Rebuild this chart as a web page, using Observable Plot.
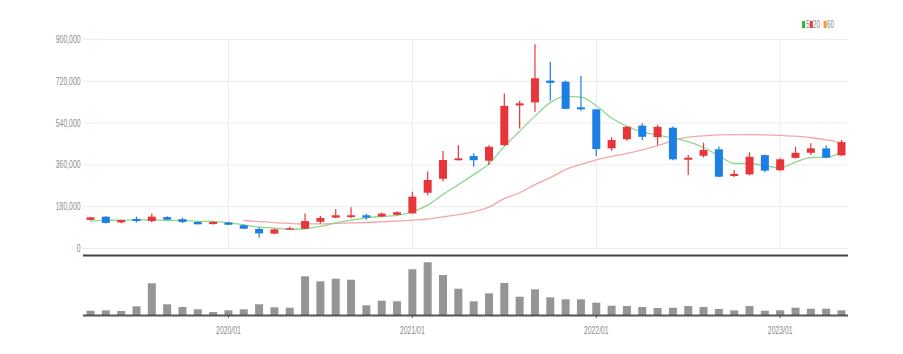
<!DOCTYPE html>
<html>
<head>
<meta charset="utf-8">
<script src="https://cdn.jsdelivr.net/npm/d3@7"></script>
<script src="https://cdn.jsdelivr.net/npm/@observablehq/plot@0.6"></script>
<style>
  body { margin: 0; background: #fff; font-family: "Liberation Sans", Arial, sans-serif; }
  #wrap { position: relative; width: 903px; height: 354px; overflow: hidden; }
  #wrap svg { display: block; }
  #legend { position: absolute; left: 802px; top: 19px; width: 80px; height: 12px; transform: scaleX(0.6); transform-origin: 0 0; font-size: 10.5px; color: #888; }
  #legend span { position: absolute; }
  #legend .sq { top: 2px; width: 5px; height: 7px; }
  #legend .tx { top: 0px; line-height: 11px; }
</style>
</head>
<body>
<div id="wrap">
  <div id="main"></div>
  <div id="vol"></div>
  <div id="legend">
    <span class="sq" style="left:0;background:#2dbb2d"></span><span class="tx" style="left:6.5px">5</span>
    <span class="sq" style="left:12.8px;background:#ee3636"></span><span class="tx" style="left:18.5px">20</span>
    <span class="sq" style="left:36px;background:#f39a32"></span><span class="tx" style="left:41.7px">60</span>
  </div>
</div>
<script>
const months = ["2019/04","2019/05","2019/06","2019/07","2019/08","2019/09","2019/10","2019/11","2019/12",
  "2020/01","2020/02","2020/03","2020/04","2020/05","2020/06","2020/07","2020/08","2020/09","2020/10","2020/11","2020/12",
  "2021/01","2021/02","2021/03","2021/04","2021/05","2021/06","2021/07","2021/08","2021/09","2021/10","2021/11","2021/12",
  "2022/01","2022/02","2022/03","2022/04","2022/05","2022/06","2022/07","2022/08","2022/09","2022/10","2022/11","2022/12",
  "2023/01","2023/02","2023/03","2023/04","2023/05"];
const open  = [121000,135000,110000,125000,116000,133000,124000,112000,103000,
  110000,98000,82000,62000,79000,83000,113000,131000,133000,141000,136000,143000,
  149000,238000,298000,378000,396000,376000,443000,614000,627000,721000,716000,606000,
  597000,429000,468000,527000,477000,518000,380000,397000,425000,310000,317000,400000,
  335000,388000,410000,429000,399000];
const high  = [134000,137000,122000,135000,149000,137000,131000,114000,114000,
  113000,100000,89000,84000,92000,149000,138000,167000,175000,148000,153000,157000,
  242000,329000,418000,443000,408000,443000,665000,634000,877000,802000,720000,741000,
  600000,477000,524000,537000,531000,523000,400000,453000,437000,336000,412000,403000,
  386000,436000,451000,443000,465000];
const low   = [119000,106000,107000,110000,110000,121000,108000,101000,101000,
  99000,82000,44000,60000,78000,82000,106000,129000,128000,122000,132000,141000,
  147000,227000,286000,377000,350000,357000,439000,515000,587000,634000,597000,591000,
  396000,419000,462000,465000,443000,378000,314000,390000,305000,306000,313000,326000,
  331000,385000,400000,388000,396000];
const close = [132000,108000,120000,116000,135000,122000,112000,102000,112000,
  100000,83000,63000,80000,85000,116000,129000,141000,141000,131000,148000,154000,
  221000,293000,379000,386000,378000,436000,612000,623000,731000,711000,599000,597000,
  426000,465000,522000,479000,522000,382000,389000,422000,307000,319000,393000,333000,
  382000,410000,429000,389000,456000];
const ma5   = [118000,121000,122000,123000,123000,121000,121000,117000,117000,
  110000,102000,92000,88000,82000,85000,95000,110000,122000,132000,138000,143000,
  158000,187000,233000,275000,318000,365000,440000,505000,570000,628000,655000,652000,
  615000,562000,526000,502000,488000,476000,460000,435000,400000,366000,366000,356000,
  348000,372000,391000,393000,414000];
const ma20  = [null,null,null,null,null,null,null,null,null,
  null,121000,116000,111000,108000,106000,106000,108000,110000,112000,115000,118000,
  122000,127000,136000,146000,158000,178000,215000,240000,275000,305000,340000,362000,
  382000,397000,410000,425000,443000,465000,480000,485000,489000,490000,490000,489000,
  487000,484000,477000,468000,456000];
const volume = [43,47,40,87,317,107,80,57,30,
  47,57,107,77,73,387,337,363,353,97,143,137,
  457,527,400,263,137,217,320,183,257,177,157,157,
  123,93,90,80,70,73,90,80,60,47,90,43,
  47,73,63,63,47];
const yTicks = [0, 180000, 360000, 540000, 720000, 900000];
const yearTicks = ["2020/01", "2021/01", "2022/01", "2023/01"];

const UP = "#e8353a", DOWN = "#1c7fe3";
const data = months.map((m, i) => ({
  i, month: m, open: open[i], high: high[i], low: low[i], close: close[i],
  ma5: ma5[i], ma20: ma20[i], volume: volume[i] * 1000,
  color: close[i] >= open[i] ? UP : DOWN
}));
const xTickIdx = yearTicks.map(m => months.indexOf(m));
const xDomain = [-0.457, months.length - 1 + 0.457];
const font = {fontFamily: "'Liberation Sans', Arial, sans-serif", fontSize: "11px", color: "#8a8a8a", background: "#fff"};

const main = Plot.plot({
  width: 903, height: 254,
  marginTop: 39, marginBottom: 6, marginLeft: 83, marginRight: 55,
  style: font,
  x: {domain: xDomain, axis: null, label: null},
  y: {domain: [0, 900000], ticks: yTicks, tickFormat: d3.format(","), tickSize: 0, tickPadding: 3, label: null},
  marks: [
    Plot.ruleY(yTicks, {stroke: "#ececec"}),
    Plot.ruleX(xTickIdx, {stroke: "#ececec"}),
    Plot.line(data.filter(d => d.ma20 != null), {x: "i", y: "ma20", stroke: "#f5a6a6", strokeWidth: 1.3, curve: "monotone-x"}),
    Plot.line(data, {x: "i", y: "ma5", stroke: "#8ed88e", strokeWidth: 1.3, curve: "monotone-x"}),
    Plot.ruleX(data, {x: "i", y1: "low", y2: "high", stroke: "color", strokeWidth: 1.2}),
    Plot.ruleX(data, {x: "i", y1: "open", y2: "close", stroke: "color", strokeWidth: 8})
  ]
});

const vol = Plot.plot({
  width: 903, height: 100,
  marginTop: 1, marginBottom: 39, marginLeft: 83, marginRight: 55,
  style: font,
  x: {domain: xDomain, ticks: xTickIdx, tickFormat: i => months[i], tickSize: 3, tickPadding: 8, label: null},
  y: {domain: [0, 600000], axis: null, label: null},
  marks: [
    Plot.ruleX(data, {x: "i", y1: 0, y2: "volume", stroke: "#959595", strokeWidth: 8}),
    Plot.ruleY([0], {stroke: "#555", strokeWidth: 2}),
    Plot.ruleY([600000], {stroke: "#444", strokeWidth: 2.2})
  ]
});

document.getElementById("main").appendChild(main);
document.getElementById("vol").appendChild(vol);

// condensed look of the reference's labels
document.querySelectorAll("#wrap svg text").forEach(t => {
  const L = t.getComputedTextLength();
  if (L > 0) {
    t.setAttribute("textLength", (L * 0.62).toFixed(1));
    t.setAttribute("lengthAdjust", "spacingAndGlyphs");
  }
});
vol.querySelectorAll('[aria-label="x-axis tick"] path, [aria-label="x-axis"] line').forEach(p => p.setAttribute("stroke", "#444"));
</script>
</body>
</html>
